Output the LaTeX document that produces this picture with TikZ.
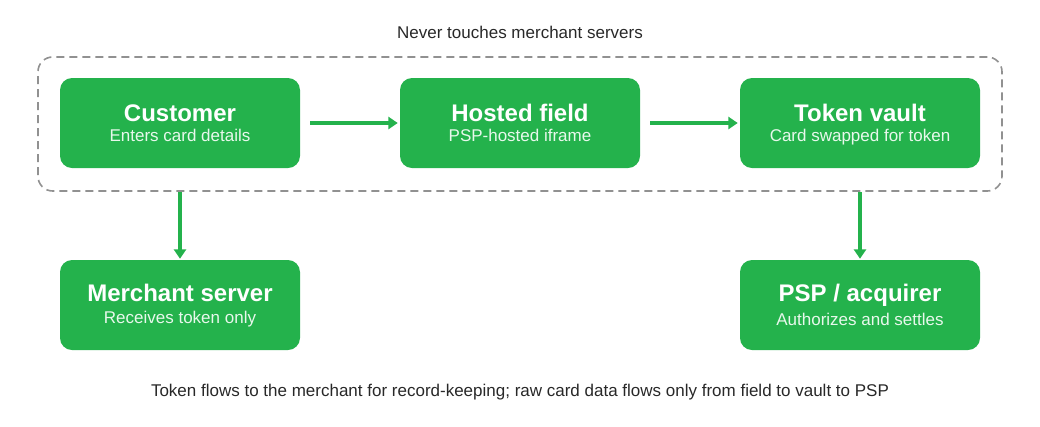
\documentclass[tikz,border=0pt]{standalone}
\usepackage{fontspec}
\setmainfont{Liberation Sans}
\usetikzlibrary{arrows.meta,positioning}

\definecolor{pspgreen}{RGB}{36,178,76}
\definecolor{subwhite}{RGB}{232,248,236}
\definecolor{notegray}{RGB}{40,40,40}
\definecolor{framegray}{RGB}{145,145,145}

\begin{document}
\begin{tikzpicture}[
    x=0.75pt, y=-0.75pt,
    box/.style={fill=pspgreen, rounded corners=9pt, minimum width=180pt, minimum height=67.5pt, inner sep=0pt},
    title/.style={anchor=base, text=white, font=\fontsize{18}{20}\selectfont\bfseries, inner sep=0pt},
    sub/.style={anchor=base, text=subwhite, font=\fontsize{12.75}{15}\selectfont, inner sep=0pt},
    note/.style={anchor=base, text=notegray, font=\fontsize{12.75}{15}\selectfont, inner sep=0pt},
    frame/.style={draw=framegray, line width=1.2pt, dash pattern=on 6pt off 3.75pt, rounded corners=11pt, minimum width=723pt, minimum height=100.5pt, inner sep=0pt},
    flow/.style={draw=pspgreen, line width=2.8pt, -{Triangle[length=7pt,width=9pt]}}
]
\useasboundingbox (0,0) rectangle (1040,426);

% Nodes
\node[frame] (frame) at (520,124) {};
\node[note] (never) at (520,38.7) {Never touches merchant servers};

\node[box] (cust) at (180,123) {};
\node[box] (field) at (520,123) {};
\node[box] (vault) at (860,123) {};
\node[box] (merch) at (180,305) {};
\node[box] (psp) at (860,305) {};

\node[title] (custT) at ([yshift=1.5pt]cust.center) {Customer};
\node[sub] (custS) at ([yshift=-13.8pt]cust.center) {Enters card details};
\node[title] (fieldT) at ([yshift=1.5pt]field.center) {Hosted field};
\node[sub] (fieldS) at ([yshift=-13.8pt]field.center) {PSP-hosted iframe};
\node[title] (vaultT) at ([yshift=1.5pt]vault.center) {Token vault};
\node[sub] (vaultS) at ([yshift=-13.8pt]vault.center) {Card swapped for token};
\node[title] (merchT) at ([yshift=2.5pt]merch.center) {Merchant server};
\node[sub] (merchS) at ([yshift=-13.5pt]merch.center) {Receives token only};
\node[title] (pspT) at ([yshift=3pt]psp.center) {PSP / acquirer};
\node[sub] (pspS) at ([yshift=-15pt]psp.center) {Authorizes and settles};

\node[note] (caption) at (520,396) {Token flows to the merchant for record-keeping; raw card data flows only from field to vault to PSP};

% Edges
\draw[flow, shorten <=7.5pt, shorten >=1.5pt] (cust) -- (field);
\draw[flow, shorten <=7.5pt, shorten >=1.5pt] (field) -- (vault);
\draw[flow, line width=2.3pt, shorten >=0.75pt] (cust.south |- frame.south) -- (merch);
\draw[flow, line width=2.3pt, shorten >=0.75pt] (vault.south |- frame.south) -- (psp);

\end{tikzpicture}
\end{document}
